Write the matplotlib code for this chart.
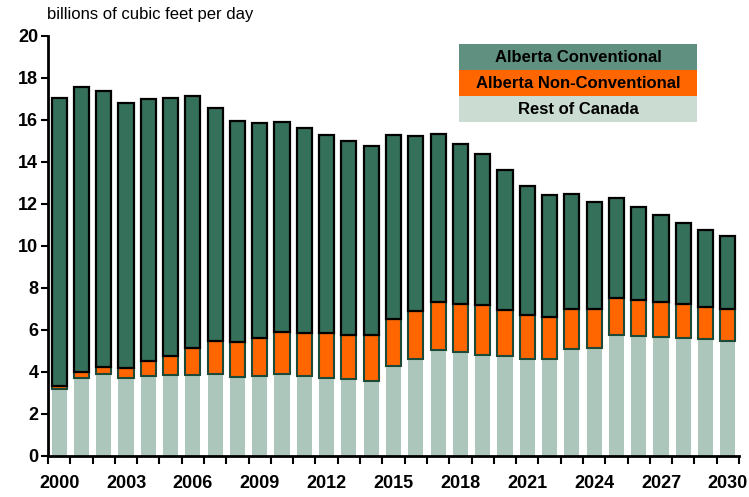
import matplotlib
matplotlib.use("Agg")
import matplotlib.pyplot as plt
import numpy as np

plt.rcParams['font.family'] = ['Liberation Sans', 'DejaVu Sans']

years = list(range(2000, 2031))
rest_of_canada = [3.19, 3.73, 3.89, 3.73, 3.81, 3.84, 3.84, 3.92, 3.78, 3.81,
                  3.92, 3.81, 3.73, 3.65, 3.59, 4.30, 4.63, 5.06, 4.93, 4.83,
                  4.74, 4.60, 4.60, 5.08, 5.12, 5.75, 5.70, 5.65, 5.60, 5.55, 5.50]
nonconv_top = [3.35, 3.98, 4.25, 4.21, 4.52, 4.75, 5.16, 5.46, 5.41, 5.60,
               5.89, 5.86, 5.84, 5.78, 5.76, 6.53, 6.89, 7.31, 7.26, 7.20,
               6.94, 6.70, 6.63, 7.02, 6.99, 7.54, 7.44, 7.34, 7.23, 7.10, 6.98]
total = [17.07, 17.59, 17.38, 16.81, 17.02, 17.07, 17.13, 16.57, 15.94, 15.84,
         15.89, 15.60, 15.29, 15.00, 14.76, 15.29, 15.25, 15.32, 14.84, 14.37,
         13.62, 12.86, 12.43, 12.49, 12.11, 12.30, 11.84, 11.46, 11.11, 10.78, 10.46]

roc = np.array(rest_of_canada)
nonconv = np.array(nonconv_top) - roc
conv = np.array(total) - np.array(nonconv_top)

series_names = ["Alberta Conventional", "Alberta Non-Conventional", "Rest of Canada"]
y_label = "billions of cubic feet per day"

W, H = 749, 497
fig = plt.figure(figsize=(W / 100, H / 100), dpi=100)
ax = fig.add_axes([48 / W, 1 - 456 / H, (739 - 48) / W, (456 - 36) / H])

x = np.arange(len(years))
bw = 0.68
ax.bar(x, roc, width=bw, color="#adc6bb", edgecolor="none")
ax.bar(x, nonconv, bottom=roc, width=bw, color="#ff6600", edgecolor="#1c4a36", linewidth=1.5)
ax.bar(x, conv, bottom=np.array(nonconv_top), width=bw, color="#35705a", edgecolor="black", linewidth=1.6)

ax.set_xlim(-0.5, len(years) - 0.5)
ax.set_ylim(0, 20)
ax.set_yticks(np.arange(0, 21, 2))
ax.set_yticklabels([str(v) for v in range(0, 21, 2)], fontsize=13, fontweight="bold")
ax.tick_params(axis="y", length=5, width=1.5, pad=2)

label_idx = [i for i, yv in enumerate(years) if (yv - 2000) % 3 == 0]
ax.set_xticks(label_idx)
ax.set_xticklabels([str(years[i]) for i in label_idx], fontsize=13, fontweight="bold")
ax.tick_params(axis="x", which="major", length=0, pad=14)
ax.set_xticks(np.arange(-0.5, len(years), 1.0), minor=True)
ax.tick_params(axis="x", which="minor", length=6, width=1.5, direction="out")

for s in ["top", "right"]:
    ax.spines[s].set_visible(False)
for s in ["left", "bottom"]:
    ax.spines[s].set_linewidth(2)
ax.set_axisbelow(False)

fig.text(47 / W, 1 - 14 / H, y_label, fontsize=12, va="center", ha="left")

# Custom legend: stacked colored bands
lax = fig.add_axes([459 / W, 1 - 122 / H, (697 - 459) / W, 78 / H])
lax.set_xlim(0, 1)
lax.set_ylim(0, 3)
lax.axis("off")
leg_colors = ["#5f9080", "#ff6600", "#cbdcd3"]
for i, (name, c) in enumerate(zip(series_names, leg_colors)):
    yb = 2 - i
    lax.add_patch(plt.Rectangle((0, yb), 1, 1, color=c, lw=0))
    lax.text(0.5, yb + 0.5, name, ha="center", va="center", fontsize=12, fontweight="bold")

fig.savefig("out.png", dpi=100)
